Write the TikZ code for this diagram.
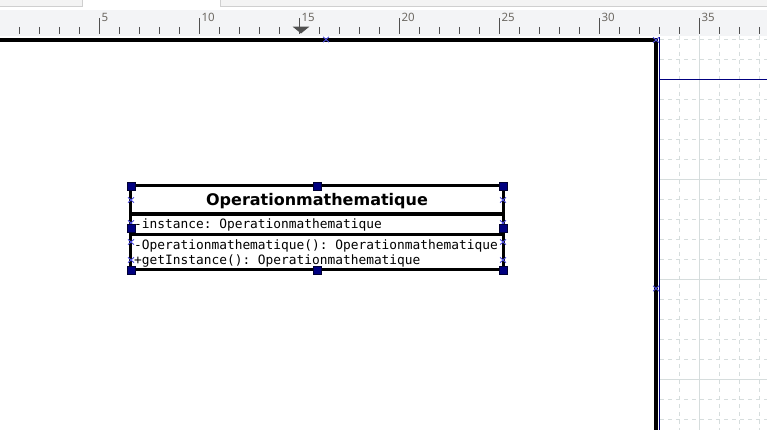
\documentclass[tikz,border=0pt]{standalone}
\usepackage{fontspec}
\usetikzlibrary{shapes.misc}
\newfontfamily\dvs{DejaVu Sans}
\newfontfamily\dvm{DejaVu Sans Mono}
\newfontfamily\rulerfont{Noto Sans}
\definecolor{tabgray}{HTML}{F3F3F3}
\definecolor{tabline}{HTML}{CFCFCF}
\definecolor{rulerbg}{HTML}{F3F4F6}
\definecolor{tickcol}{HTML}{505050}
\definecolor{labelcol}{HTML}{6E6A64}
\definecolor{gridcol}{HTML}{D6DDDD}
\definecolor{markblue}{HTML}{4E4EE0}
\definecolor{handlenavy}{HTML}{000080}
\frenchspacing
\begin{document}
\begin{tikzpicture}[x=1pt,y=-1pt,
  tick/.style={draw=tickcol, line width=1pt},
  rulerlabel/.style={inner sep=0pt, text=labelcol, font=\rulerfont\fontsize{11.5}{13}\selectfont, anchor=base west},
  griddash/.style={draw=gridcol, line width=1pt, dash pattern=on 4pt off 4pt},
  gridsolid/.style={draw=gridcol, line width=1pt},
  pageborder/.style={draw=black, line width=4pt},
  navyline/.style={draw=handlenavy, line width=1pt},
  umlborder/.style={draw=black, line width=3pt},
  handle/.style={rectangle, fill=handlenavy, draw=black!60!handlenavy, line width=0.5pt, minimum size=8pt, inner sep=0pt},
  xmark/.style={cross out, draw=markblue, line width=0.9pt, minimum width=5pt, minimum height=4.5pt, inner sep=0pt},
  titletext/.style={inner sep=0pt, anchor=base, font=\dvs\bfseries\fontsize{16}{19}\selectfont},
  monotext/.style={inner sep=0pt, anchor=base west, font=\dvm\fontsize{12.85}{15}\selectfont\frenchspacing}
]
\useasboundingbox (0,0) rectangle (767,430);
\fill[white] (0,0) rectangle (767,430);

% tabs at the top
\fill[tabgray] (0,0) rectangle (82,6);
\draw[tabline] (0,6) -- (82,6) -- (82,0);
\fill[tabgray] (220,0) rectangle (767,6);
\draw[tabline] (220,0) -- (220,6) -- (767,6);

% ruler
\fill[rulerbg] (0,10) rectangle (767,36);
\foreach \i in {1,...,38}{
  \draw[tick] ({20*\i-0.7},27) -- ({20*\i-0.7},34.5);
}
\foreach \n in {5,10,...,35}{
  \draw[tick] ({20*\n-0.7},18) -- ({20*\n-0.7},27);
  \node[rulerlabel] (lab\n) at ({20*\n+1.3},21.7) {\n};
}
\fill[tickcol] (292.7,26.7) -- (309.3,26.7) -- (301,33.5) -- cycle;

% grid beyond the page
\begin{scope}
\clip (660,36) rectangle (767,430);
\foreach \k in {0,...,19}{
  \draw[griddash] (660,{39.3+20*\k}) -- (767,{39.3+20*\k});
}
\foreach \gx in {679.3,719.3,739.3,759.3}{
  \draw[griddash] (\gx,36) -- (\gx,430);
}
\draw[gridsolid] (699.3,36) -- (699.3,430);
\foreach \gy in {179.3,279.3,379.3}{
  \draw[gridsolid] (660,\gy) -- (767,\gy);
}
\end{scope}

% page border
\draw[pageborder] (0,39.7) -- (658,39.7);
\draw[pageborder] (656,37.7) -- (656,430);
\draw[navyline] (659.5,37) -- (659.5,430);
\draw[navyline] (659.5,79.3) -- (767,79.3);
\node[xmark] (pm1) at (326,39.5) {};
\node[xmark] (pm2) at (656,40) {};
\node[xmark] (pm3) at (656,288.5) {};

% UML class
\fill[white] (130.5,185.5) rectangle (503.5,269.5);
\node[titletext] (title) at (317,205) {Operationmathematique};
\node[monotext] (attr) at (134,228) {-instance: Operationmathematique};
\node[monotext] (meth1) at (134,249.5) {-Operationmathematique(): Operationmathematique};
\node[monotext] (meth2) at (134,264.5) {+getInstance(): Operationmathematique};
\draw[umlborder] (130.5,185.5) rectangle (503.5,269.5);
\draw[umlborder] (130.5,214) -- (503.5,214);
\draw[umlborder] (130.5,234) -- (503.5,234);

% connection marks
\foreach \my [count=\c] in {200,223,242,260}{
  \node[xmark] (cl\c) at (131,\my) {};
  \node[xmark] (cr\c) at (503,\my) {};
}

% selection handles
\node[handle] (h1) at (131,186) {};
\node[handle] (h2) at (317,186) {};
\node[handle] (h3) at (503,186) {};
\node[handle] (h4) at (131,228) {};
\node[handle] (h5) at (503,228) {};
\node[handle] (h6) at (131,270) {};
\node[handle] (h7) at (317,270) {};
\node[handle] (h8) at (503,270) {};
\end{tikzpicture}
\end{document}
